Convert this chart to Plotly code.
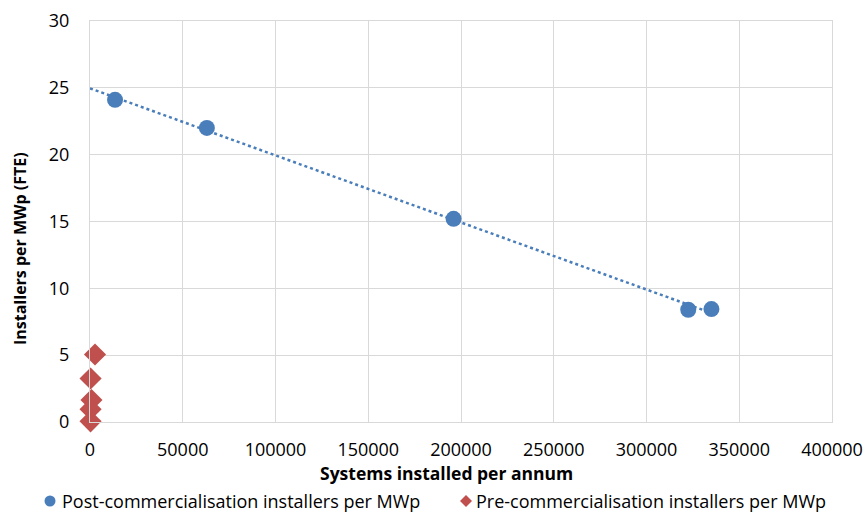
import numpy as np
import plotly.graph_objects as go

post_x = [13500, 63000, 196000, 322500, 335000]
post_y = [24.1, 22.0, 15.2, 8.4, 8.45]
pre_x = [2700, 300, 800, 300, 300]
pre_y = [5.05, 3.25, 1.65, 0.95, 0.05]

x_ticks = [0, 50000, 100000, 150000, 200000, 250000, 300000, 350000, 400000]
y_ticks = [0, 5, 10, 15, 20, 25, 30]

post_name = "Post-commercialisation installers per MWp"
pre_name = "Pre-commercialisation installers per MWp"

blue = "#4a7ebb"
red = "#c0504d"
grid = "#d9d9d9"
font = "Open Sans, Liberation Sans, sans-serif"

# plot area in pixels
L, R, T, B = 90, 832, 21, 422
W, H = R - L, B - T


def px(x):
    return (x - L) / W


def py(y):
    return (B - y) / H


slope, intercept = np.polyfit(post_x, post_y, 1)
tx = [0, max(post_x)]
ty = [intercept + slope * v for v in tx]

fig = go.Figure()
fig.add_trace(go.Scatter(x=tx, y=ty, mode="lines", showlegend=False,
                         line=dict(color=blue, width=2.5, dash="dot"), hoverinfo="skip"))
fig.add_trace(go.Scatter(x=post_x, y=post_y, mode="markers", cliponaxis=False,
                         name=post_name, showlegend=False,
                         marker=dict(color=blue, size=16, symbol="circle")))
fig.add_trace(go.Scatter(x=pre_x, y=pre_y, mode="markers", cliponaxis=False,
                         name=pre_name, showlegend=False,
                         marker=dict(color=red, size=17, symbol="diamond")))

leg_y = 501
shapes = [
    dict(type="circle", xref="paper", yref="paper", xsizemode="pixel", ysizemode="pixel",
         xanchor=px(50), yanchor=py(leg_y), x0=-5.5, x1=5.5, y0=-5.5, y1=5.5,
         fillcolor=blue, line=dict(width=0)),
    dict(type="path", xref="paper", yref="paper", xsizemode="pixel", ysizemode="pixel",
         xanchor=px(466), yanchor=py(leg_y), path="M -6 0 L 0 6 L 6 0 L 0 -6 Z",
         fillcolor=red, line=dict(width=0)),
]

annotations = [
    dict(text="<b>Systems installed per annum</b>", xref="paper", yref="paper",
         x=px(446), y=py(473), xanchor="center", yanchor="middle",
         showarrow=False, font=dict(size=17.5)),
    dict(text="<b>Installers per MWp (FTE)</b>", xref="paper", yref="paper",
         x=px(20), y=py(249), xanchor="center", yanchor="middle", textangle=-90,
         showarrow=False, font=dict(size=16)),
    dict(text=post_name, xref="paper", yref="paper", x=px(60), y=py(leg_y),
         xanchor="left", yanchor="middle", showarrow=False, font=dict(size=18)),
    dict(text=pre_name, xref="paper", yref="paper", x=px(474), y=py(leg_y),
         xanchor="left", yanchor="middle", showarrow=False, font=dict(size=18)),
]

fig.update_layout(
    width=866, height=513,
    margin=dict(l=L, r=866 - R, t=T, b=513 - B, autoexpand=False),
    paper_bgcolor="white", plot_bgcolor="white",
    font=dict(family=font, size=18, color="black"),
    showlegend=False,
    xaxis=dict(range=[0, 400000], tickvals=x_ticks, ticktext=[str(v) for v in x_ticks],
               showgrid=True, gridcolor=grid, gridwidth=1.3,
               showline=True, linecolor=grid, linewidth=1.3, mirror=True,
               zeroline=False, ticks="outside", ticklen=11, tickcolor="rgba(0,0,0,0)",
               tickfont=dict(size=18), automargin=False),
    yaxis=dict(range=[0, 30], tickvals=y_ticks,
               showgrid=True, gridcolor=grid, gridwidth=1.3,
               showline=True, linecolor=grid, linewidth=1.3, mirror=True,
               zeroline=False, ticks="outside", ticklen=16, tickcolor="rgba(0,0,0,0)",
               tickfont=dict(size=18), automargin=False),
    shapes=shapes,
    annotations=annotations,
)

fig.write_html("out.html")
